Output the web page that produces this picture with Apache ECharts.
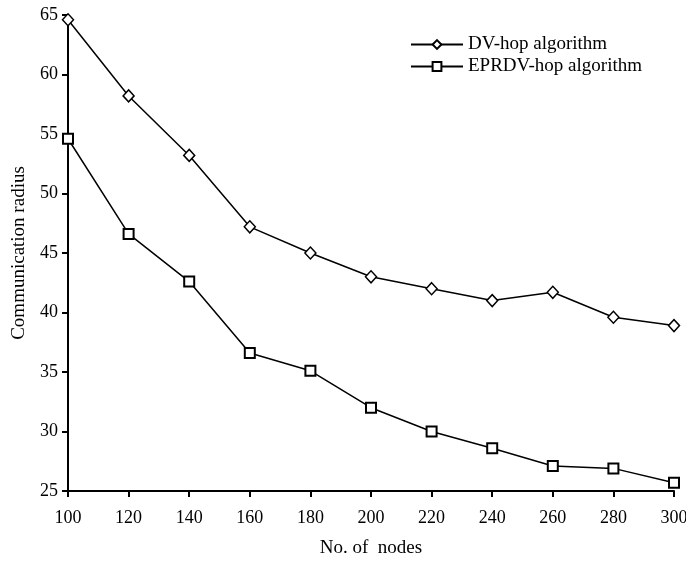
<!DOCTYPE html>
<html>
<head>
<meta charset="utf-8">
<script src="https://cdn.jsdelivr.net/npm/echarts@6/dist/echarts.min.js"></script>
<style>
html,body{margin:0;padding:0;background:#fff;}
#chart{width:686px;height:562px;}
</style>
</head>
<body>
<div id="chart"></div>
<script>
var nodes = [100, 120, 140, 160, 180, 200, 220, 240, 260, 280, 300];
var dvHop = [64.6, 58.2, 53.2, 47.2, 45.0, 43.0, 42.0, 41.0, 41.7, 39.6, 38.9];
var eprdvHop = [54.6, 46.6, 42.6, 36.6, 35.1, 32.0, 30.0, 28.6, 27.1, 26.9, 25.7];

function pairs(xs, ys){
	var out = [];
	for(var i=0;i<xs.length;i++){
		out.push([xs[i], ys[i]]);
	}
	return out;
}

var myChart = echarts.init(document.getElementById('chart'));
var fontName = 'Liberation Serif';
var option = {
	animation: false,
	backgroundColor: '#fff',
	textStyle: {fontFamily: fontName, color: '#000'},
	grid: {left: 68, right: 12, top: 15, bottom: 71, outerBoundsMode: 'none'},
	legend: {
		left: 410,
		top: 35,
		padding: 0,
		orient: 'vertical',
		itemWidth: 52,
		itemHeight: 11,
		itemGap: 3,
		textStyle: {fontFamily: fontName, fontSize: 19, color: '#000'},
		data: ['DV-hop algorithm', 'EPRDV-hop algorithm']
	},
	xAxis: {
		type: 'value',
		min: 100,
		max: 300,
		interval: 20,
		name: 'No. of  nodes',
		nameLocation: 'middle',
		nameGap: 48,
		nameTextStyle: {fontFamily: fontName, fontSize: 19, color: '#000'},
		axisLine: {lineStyle: {color: '#000', width: 2}},
		axisTick: {length: 6, lineStyle: {color: '#000', width: 2}},
		axisLabel: {fontFamily: fontName, fontSize: 18, color: '#000', margin: 18},
		splitLine: {show: false}
	},
	yAxis: {
		type: 'value',
		min: 25,
		max: 65,
		interval: 5,
		name: 'Communication radius',
		nameLocation: 'middle',
		nameGap: 39,
		nameTextStyle: {fontFamily: fontName, fontSize: 19, color: '#000'},
		axisLine: {show: true, lineStyle: {color: '#000', width: 2}},
		axisTick: {show: true, length: 6, lineStyle: {color: '#000', width: 2}},
		axisLabel: {fontFamily: fontName, fontSize: 18, color: '#000', margin: 10},
		splitLine: {show: false}
	},
	series: [
		{
			name: 'DV-hop algorithm',
			type: 'line',
			data: pairs(nodes, dvHop),
			symbol: 'diamond',
			symbolSize: [11, 12],
			lineStyle: {color: '#000', width: 1.5},
			itemStyle: {color: '#fff', borderColor: '#000', borderWidth: 1.5}
		},
		{
			name: 'EPRDV-hop algorithm',
			type: 'line',
			data: pairs(nodes, eprdvHop),
			symbol: 'rect',
			symbolSize: 10,
			lineStyle: {color: '#000', width: 1.5},
			itemStyle: {color: '#fff', borderColor: '#000', borderWidth: 2}
		}
	]
};
myChart.setOption(option);
</script>
</body>
</html>
